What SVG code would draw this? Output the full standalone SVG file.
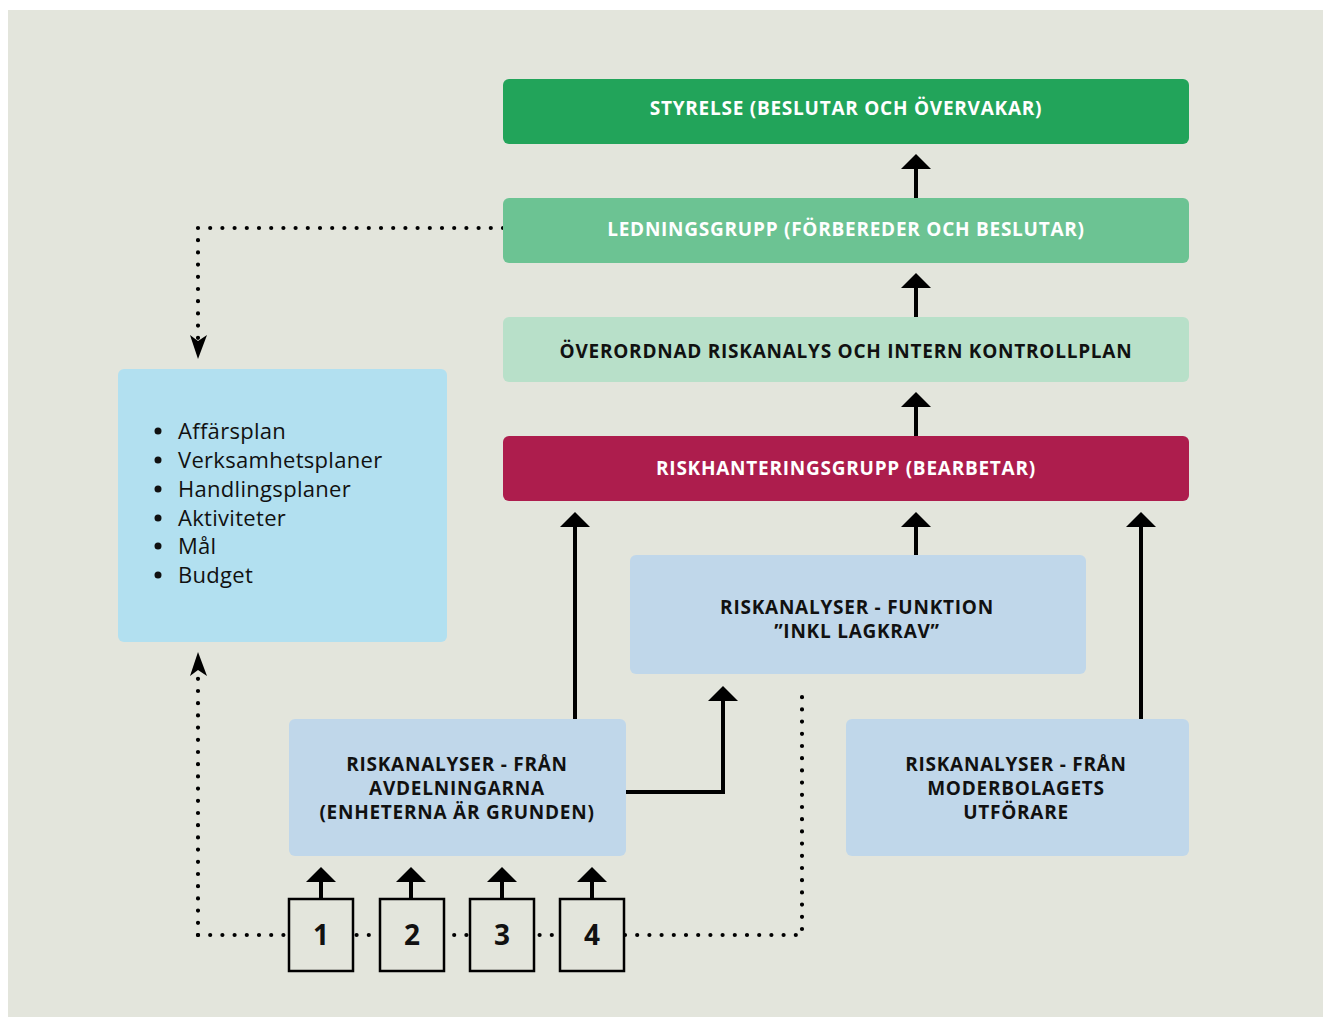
<svg xmlns="http://www.w3.org/2000/svg" width="1323" height="1017" viewBox="0 0 1323 1017">
<defs>
<style>
.lbl{font-family:"Open Sans","Noto Sans",sans-serif;font-weight:700;font-size:19px;text-anchor:middle;letter-spacing:0.75px}
.w{fill:#ffffff}
.k{fill:#111111}
.list{font-family:"Open Sans","Noto Sans",sans-serif;font-size:22px;fill:#111111;letter-spacing:0.3px}
.num{font-family:"Open Sans","Noto Sans",sans-serif;font-weight:700;font-size:28px;fill:#111111;text-anchor:middle}
.solid{stroke:#000;stroke-width:4;fill:none}
.dot{stroke:#000;stroke-width:4.2;fill:none;stroke-linecap:round;stroke-dasharray:0 12.2}
.sq{fill:#e3e5dc;stroke:#000;stroke-width:2.5}
</style>
<path id="head" d="M0,0 L15,15 L-15,15 Z" fill="#000"/>
</defs>
<rect x="8" y="10" width="1315" height="1007" fill="#e3e5dc"/>

<g id="connectors">
<path class="dot" d="M503,228 H198 V345"/>
<path d="M198,359 L190,335 L198,341 L207,335 Z" fill="#000"/>
<path class="dot" d="M198,935 V672"/>
<path d="M198,652 L190,676 L198,670 L207,676 Z" fill="#000"/>
<path class="dot" d="M198,935 H802 V697"/>
<path class="solid" d="M916,198 V166"/>
<use href="#head" x="916" y="154"/>
<path class="solid" d="M916,317 V285"/>
<use href="#head" x="916" y="273"/>
<path class="solid" d="M916,436 V404"/>
<use href="#head" x="916" y="392"/>
<path class="solid" d="M916,555 V524"/>
<use href="#head" x="916" y="512"/>
<path class="solid" d="M575,719 V524"/>
<use href="#head" x="575" y="512"/>
<path class="solid" d="M1141,719 V524"/>
<use href="#head" x="1141" y="512"/>
<path class="solid" d="M625,792 H723 V698"/>
<use href="#head" x="723" y="686"/>
<path class="solid" d="M321,899 V879"/>
<use href="#head" x="321" y="867"/>
<path class="solid" d="M411,899 V879"/>
<use href="#head" x="411" y="867"/>
<path class="solid" d="M502,899 V879"/>
<use href="#head" x="502" y="867"/>
<path class="solid" d="M592,899 V879"/>
<use href="#head" x="592" y="867"/>
</g>

<g id="styrelse">
<rect x="503" y="79" width="686" height="65" rx="6" fill="#22a45a"/>
<text class="lbl w" x="846" y="115">STYRELSE (BESLUTAR OCH ÖVERVAKAR)</text>
</g>
<g id="ledningsgrupp">
<rect x="503" y="198" width="686" height="65" rx="6" fill="#6cc393"/>
<text class="lbl w" x="846" y="236">LEDNINGSGRUPP (FÖRBEREDER OCH BESLUTAR)</text>
</g>
<g id="overordnad">
<rect x="503" y="317" width="686" height="65" rx="6" fill="#b8e0c9"/>
<text class="lbl k" x="846" y="358">ÖVERORDNAD RISKANALYS OCH INTERN KONTROLLPLAN</text>
</g>
<g id="riskhantering">
<rect x="503" y="436" width="686" height="65" rx="6" fill="#ad1d4d"/>
<text class="lbl w" x="846" y="475">RISKHANTERINGSGRUPP (BEARBETAR)</text>
</g>
<g id="planer">
<rect x="118" y="369" width="329" height="273" rx="6" fill="#b2e0f0"/>
<g class="list">
<circle cx="158" cy="431" r="3.5"/><text x="178" y="439">Affärsplan</text>
<circle cx="158" cy="460" r="3.5"/><text x="178" y="468">Verksamhetsplaner</text>
<circle cx="158" cy="489" r="3.5"/><text x="178" y="497">Handlingsplaner</text>
<circle cx="158" cy="518" r="3.5"/><text x="178" y="526">Aktiviteter</text>
<circle cx="158" cy="546" r="3.5"/><text x="178" y="554">Mål</text>
<circle cx="158" cy="575" r="3.5"/><text x="178" y="583">Budget</text>
</g>
</g>
<g id="funktion">
<rect x="630" y="555" width="456" height="119" rx="6" fill="#c0d7ea"/>
<text class="lbl k" x="857" y="614">RISKANALYSER - FUNKTION</text>
<text class="lbl k" x="857" y="638">”INKL LAGKRAV”</text>
</g>
<g id="avdelningarna">
<rect x="289" y="719" width="337" height="137" rx="6" fill="#c0d7ea"/>
<text class="lbl k" x="457" y="771">RISKANALYSER - FRÅN</text>
<text class="lbl k" x="457" y="795">AVDELNINGARNA</text>
<text class="lbl k" x="457" y="819">(ENHETERNA ÄR GRUNDEN)</text>
</g>
<g id="moderbolaget">
<rect x="846" y="719" width="343" height="137" rx="6" fill="#c0d7ea"/>
<text class="lbl k" x="1016" y="771">RISKANALYSER - FRÅN</text>
<text class="lbl k" x="1016" y="795">MODERBOLAGETS</text>
<text class="lbl k" x="1016" y="819">UTFÖRARE</text>
</g>
<g id="n1"><rect class="sq" x="289" y="899" width="64" height="72"/><text class="num" x="321" y="945">1</text></g>
<g id="n2"><rect class="sq" x="380" y="899" width="64" height="72"/><text class="num" x="412" y="945">2</text></g>
<g id="n3"><rect class="sq" x="470" y="899" width="64" height="72"/><text class="num" x="502" y="945">3</text></g>
<g id="n4"><rect class="sq" x="560" y="899" width="64" height="72"/><text class="num" x="592" y="945">4</text></g>
</svg>
